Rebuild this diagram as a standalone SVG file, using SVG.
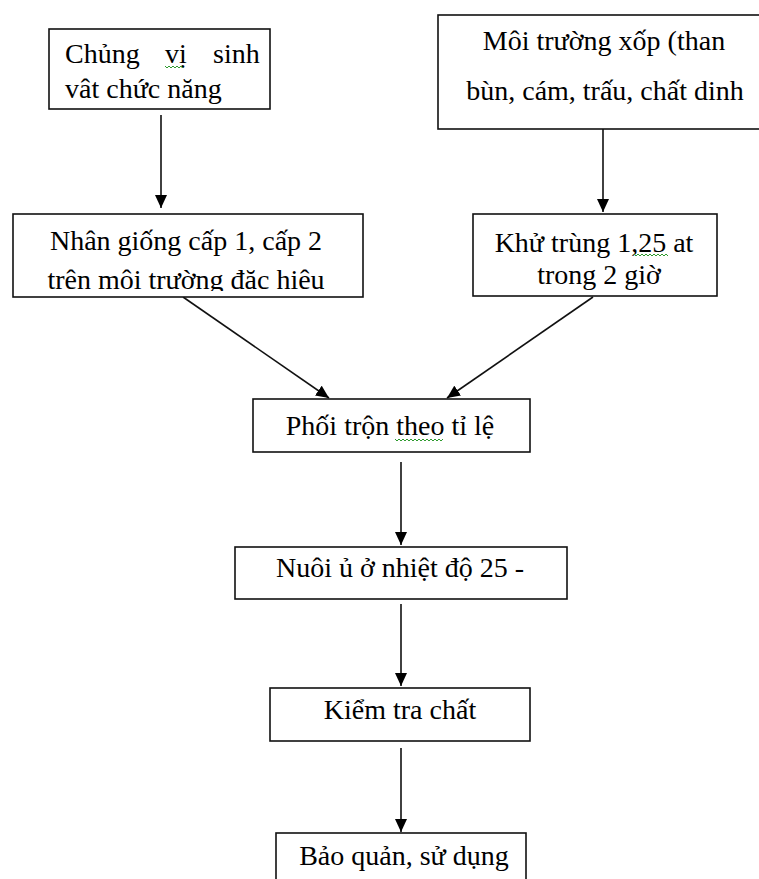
<svg xmlns="http://www.w3.org/2000/svg" width="759" height="879" viewBox="0 0 759 879">
  <style>
    .box { fill: #fff; stroke: #111; stroke-width: 1.6; }
    .t { font-family: "Liberation Serif", "Times New Roman", serif; font-size: 28px; fill: #000; }
    .c { text-anchor: middle; }
    .wire { stroke: #111; stroke-width: 1.6; fill: none; marker-end: url(#head); }
    .squig { stroke: #2e9a2e; stroke-width: 1; fill: none; }
  </style>
  <defs>
    <marker id="head" markerUnits="userSpaceOnUse" markerWidth="13" markerHeight="12" refX="13" refY="6" orient="auto">
      <path d="M0,0 L13,6 L0,12 z" fill="#000"/>
    </marker>
    <clipPath id="clipSpawn">
      <rect x="14" y="215" width="348" height="76"/>
    </clipPath>
  </defs>

  <rect width="759" height="879" fill="#fff"/>

  <g id="connectors">
    <line class="wire" x1="161" y1="115" x2="161" y2="208"/>
    <line class="wire" x1="603" y1="129" x2="603" y2="212"/>
    <line class="wire" x1="183" y1="297" x2="329" y2="398"/>
    <line class="wire" x1="593" y1="297" x2="447" y2="398"/>
    <line class="wire" x1="401" y1="462" x2="401" y2="545"/>
    <line class="wire" x1="401" y1="604" x2="401" y2="686"/>
    <line class="wire" x1="401" y1="748" x2="401" y2="832"/>
  </g>

  <g id="strain">
    <rect class="box" x="49" y="29" width="221" height="80"/>
    <text class="t" x="65" y="63">Chủng</text>
    <text class="t" x="165" y="63">vị</text>
    <text class="t" x="213" y="63">sinh</text>
    <path class="squig" d="M165,66 l2,2 l2,-2 l2,2 l2,-2 l2,2 l2,-2 l2,2 l2,-2 l2,2"/>
    <text class="t" x="65" y="98">vât chức năng</text>
  </g>

  <g id="substrate">
    <rect class="box" x="438" y="15" width="340" height="114"/>
    <text class="t c" x="604" y="50">Môi trường xốp (than</text>
    <text class="t c" x="605" y="100">bùn, cám, trấu, chất dinh</text>
  </g>

  <g id="spawn">
    <rect class="box" x="13" y="214" width="350" height="83"/>
    <text class="t c" x="186" y="250">Nhân giống cấp 1, cấp 2</text>
    <text class="t c" x="186" y="289" clip-path="url(#clipSpawn)">trên môi trường đăc hiêu</text>
  </g>

  <g id="sterilize">
    <rect class="box" x="473" y="214" width="244" height="82"/>
    <text class="t c" x="594" y="252">Khử trùng 1,25 at</text>
    <path class="squig" d="M634,254 l2,2 l2,-2 l2,2 l2,-2 l2,2 l2,-2 l2,2 l2,-2 l2,2 l2,-2 l2,2 l2,-2 l2,2 l2,-2 l2,2 l2,-2 l2,2"/>
    <text class="t c" x="599" y="284">trong 2 giờ</text>
  </g>

  <g id="mix">
    <rect class="box" x="253" y="399" width="277" height="53"/>
    <text class="t c" x="390" y="435">Phối trộn theo tỉ lệ</text>
    <path class="squig" d="M395,439 l2,2 l2,-2 l2,2 l2,-2 l2,2 l2,-2 l2,2 l2,-2 l2,2 l2,-2 l2,2 l2,-2 l2,2 l2,-2 l2,2 l2,-2 l2,2 l2,-2 l2,2 l2,-2 l2,2 l2,-2 l2,2 l2,-2"/>
  </g>

  <g id="incubate">
    <rect class="box" x="235" y="547" width="332" height="52"/>
    <text class="t c" x="400" y="577">Nuôi ủ ở nhiệt độ 25 -</text>
  </g>

  <g id="inspect">
    <rect class="box" x="270" y="688" width="260" height="53"/>
    <text class="t c" x="400" y="719">Kiểm tra chất</text>
  </g>

  <g id="store">
    <rect class="box" x="276" y="833" width="250" height="60"/>
    <text class="t c" x="404" y="865">Bảo quản, sử dụng</text>
  </g>
</svg>
